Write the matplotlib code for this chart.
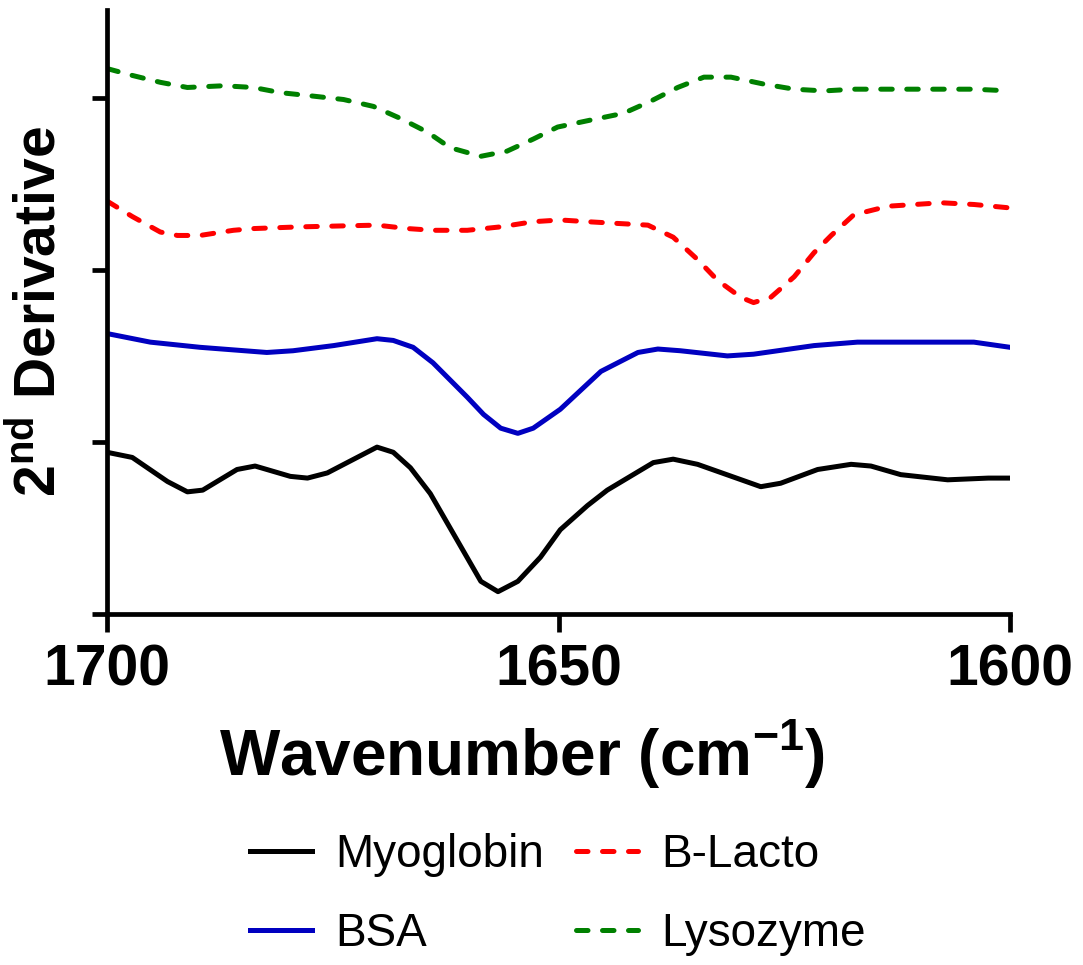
import numpy as np
import matplotlib
matplotlib.use("Agg")
import matplotlib.pyplot as plt

plt.rcParams['font.family'] = ['Liberation Sans', 'DejaVu Sans']
plt.rcParams['mathtext.fontset'] = 'custom'
plt.rcParams['mathtext.rm'] = 'Liberation Sans'
plt.rcParams['mathtext.bf'] = 'Liberation Sans:bold'

# values (wavenumber in cm-1, 2nd derivative in offset units)
myo_wn = [1700, 1697.2, 1693.3, 1691.1, 1689.4, 1685.6, 1683.6, 1679.7, 1677.8, 1675.6,
          1670.1, 1668.3, 1666.4, 1664.2, 1658.6, 1656.7, 1654.5, 1652.0, 1649.8, 1646.8,
          1644.6, 1639.5, 1637.3, 1634.6, 1627.6, 1625.4, 1621.3, 1617.6, 1615.4, 1612.1,
          1606.9, 1602.4, 1600]
myo_y = [0.94, 0.91, 0.77, 0.71, 0.72, 0.84, 0.86, 0.80, 0.79, 0.82,
         0.97, 0.94, 0.85, 0.70, 0.19, 0.13, 0.19, 0.33, 0.49, 0.63,
         0.72, 0.88, 0.90, 0.87, 0.74, 0.76, 0.84, 0.87, 0.86, 0.81,
         0.78, 0.79, 0.79]

bsa_wn = [1700, 1695.2, 1689.7, 1682.3, 1679.4, 1674.9, 1670.1, 1668.3, 1666.1, 1663.9,
          1660.1, 1658.3, 1656.4, 1654.5, 1652.8, 1649.8, 1645.3, 1641.2, 1639.0, 1636.5,
          1631.3, 1628.4, 1621.7, 1616.9, 1606.9, 1604.0, 1600]
bsa_y = [1.63, 1.58, 1.55, 1.52, 1.53, 1.56, 1.60, 1.59, 1.55, 1.46,
         1.26, 1.16, 1.08, 1.05, 1.08, 1.19, 1.41, 1.52, 1.54, 1.53,
         1.50, 1.51, 1.56, 1.58, 1.58, 1.58, 1.55]

blac_wn = [1700, 1697.2, 1694.1, 1692.2, 1689.7, 1686.0, 1683.8, 1678.6, 1670.1, 1666.7,
           1663.9, 1660.1, 1656.4, 1652.8, 1649.8, 1646.8, 1643.5, 1640.1, 1637.3, 1634.6,
           1632.4, 1629.8, 1628.4, 1626.5, 1623.9, 1621.7, 1619.8, 1617.3, 1613.5, 1607.6,
           1604.0, 1600]
blac_y = [2.40, 2.31, 2.22, 2.20, 2.20, 2.23, 2.24, 2.25, 2.26, 2.24,
          2.23, 2.23, 2.25, 2.28, 2.29, 2.28, 2.27, 2.26, 2.19, 2.06,
          1.94, 1.84, 1.81, 1.84, 1.96, 2.10, 2.20, 2.32, 2.37, 2.39,
          2.38, 2.36]

lyso_wn = [1700, 1697.2, 1694.1, 1691.1, 1687.1, 1683.8, 1680.8, 1677.2, 1673.8, 1670.5,
           1667.5, 1664.5, 1662.0, 1658.6, 1655.7, 1652.8, 1650.1, 1646.5, 1642.8, 1639.8,
           1636.8, 1633.9, 1630.9, 1627.3, 1623.9, 1620.6, 1617.3, 1611.3, 1604.0, 1600]
lyso_y = [3.17, 3.13, 3.09, 3.06, 3.07, 3.06, 3.03, 3.01, 2.99, 2.95,
          2.88, 2.80, 2.71, 2.66, 2.69, 2.76, 2.83, 2.87, 2.91, 2.98,
          3.06, 3.12, 3.12, 3.08, 3.05, 3.04, 3.05, 3.05, 3.05, 3.04]

fig = plt.figure(figsize=(10.83, 9.65), dpi=100)
ax = fig.add_axes([0.0988, 0.3637, 0.8338, 0.6259])

lw = 3.6
ax.plot(myo_wn, myo_y, color='black', lw=lw, label='Myoglobin')
ax.plot(bsa_wn, bsa_y, color='#0000c0', lw=lw, label='BSA')
ax.plot(blac_wn, blac_y, color='red', lw=lw, dashes=(2.3, 2.9),
        dash_capstyle='round', label='B-Lacto')
ax.plot(lyso_wn, lyso_y, color='green', lw=lw, dashes=(2.3, 2.9),
        dash_capstyle='round', label='Lysozyme')

ax.set_xlim(1700, 1600)
ax.set_ylim(0, 3.51)
ax.set_xticks([1700, 1650, 1600])
ax.set_yticks([0, 1, 2, 3])
ax.set_yticklabels([])
ax.spines['top'].set_visible(False)
ax.spines['right'].set_visible(False)
for s in ['left', 'bottom']:
    ax.spines[s].set_linewidth(3.4)
ax.tick_params(axis='x', length=13, width=3.4, pad=8, labelsize=41)
ax.tick_params(axis='y', length=11, width=3.4)
for t in ax.get_xticklabels():
    t.set_fontweight('bold')

ax.set_xlabel(r'Wavenumber (cm$^{\mathbf{-1}}$)', fontsize=46, fontweight='bold')
ax.xaxis.set_label_coords(0.46, -0.17)
ax.set_ylabel(r'2$^{\mathbf{nd}}$ Derivative', fontsize=41, fontweight='bold', labelpad=14)

fig.legend(loc='center', bbox_to_anchor=(0.515, 0.073), ncol=2, frameon=False,
           fontsize=33, handlelength=1.35, handletextpad=0.5, columnspacing=0.7,
           labelspacing=0.75)

fig.savefig('out.png', dpi=100)
